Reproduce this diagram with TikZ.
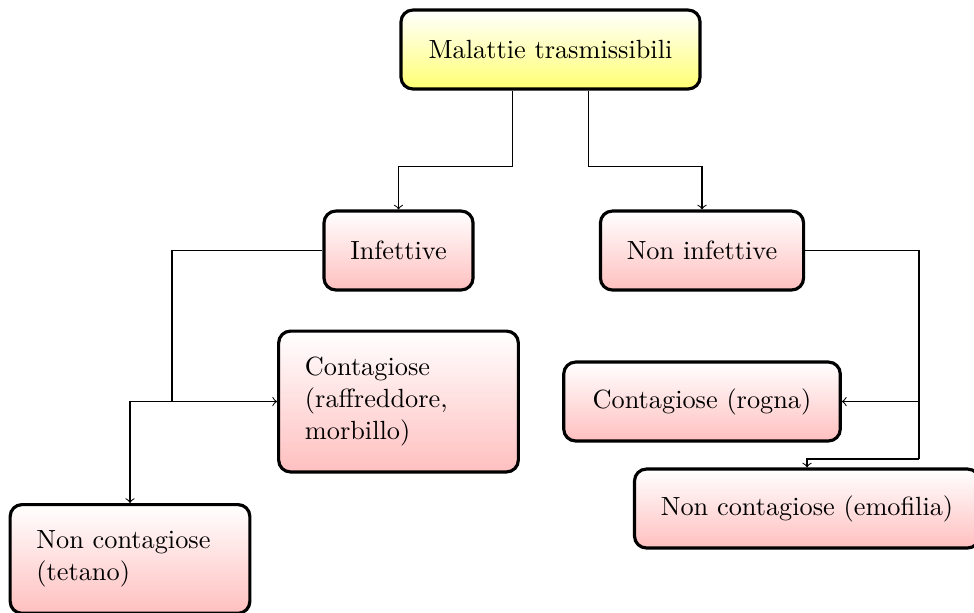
\documentclass[tikz,border=0pt]{standalone}
\usetikzlibrary{calc}
\tikzset{
  box/.style={draw, very thick, rounded corners=4.5pt, inner xsep=10pt, inner ysep=10pt,
    minimum height=30pt, top color=white, bottom color=red!25, font=\normalsize},
  rootbox/.style={box, bottom color=yellow!55, inner xsep=10.5pt},
  widebox/.style={box, text width=2.5cm, align=left},
  conn/.style={thin, ->},
  link/.style={thin}
}
\begin{document}
\begin{tikzpicture}[x=0.3802pt, y=-0.3802pt]
  \useasboundingbox (0,0) rectangle (974,612);

  \node[rootbox] (root) at (550.5,49.5) {Malattie trasmissibili};
  \node[box] (inf) at (398.5,250.5) {Infettive};
  \node[box] (ninf) at (702,250.5) {Non infettive};
  \node[widebox] (cont) at (398.5,401.5) {Contagiose\\(raffreddore,\\morbillo)};
  \node[widebox, anchor=north] (tet) at (130,503) {Non contagiose\\(tetano)};
  \node[box, inner xsep=11pt] (rogna) at (702,401.5) {Contagiose (rogna)};
  \node[box] (emo) at (807,508.5) {Non contagiose (emofilia)};

  % branches from the root
  \draw[conn] ([xshift=-14.3pt]root.south) -- ++(0,76) -| (inf.north);
  \draw[conn] ([xshift=14.5pt]root.south) -- ++(0,76) -| (ninf.north);

  % infective branch
  \coordinate (jl) at (172,401.5);
  \draw[link] (inf.west) -| (jl);
  \draw[conn] (jl) -- (cont.west);
  \draw[conn] (jl) -| (tet.north);

  % non-infective branch
  \coordinate (jr) at (919,401.5);
  \coordinate (jr2) at (919,459);
  \draw[link] (ninf.east) -| (jr);
  \draw[conn] (jr) -- (rogna.east);
  \draw[link] (jr) -- (jr2);
  \draw[conn] (jr2) -| (emo.north);
\end{tikzpicture}
\end{document}
